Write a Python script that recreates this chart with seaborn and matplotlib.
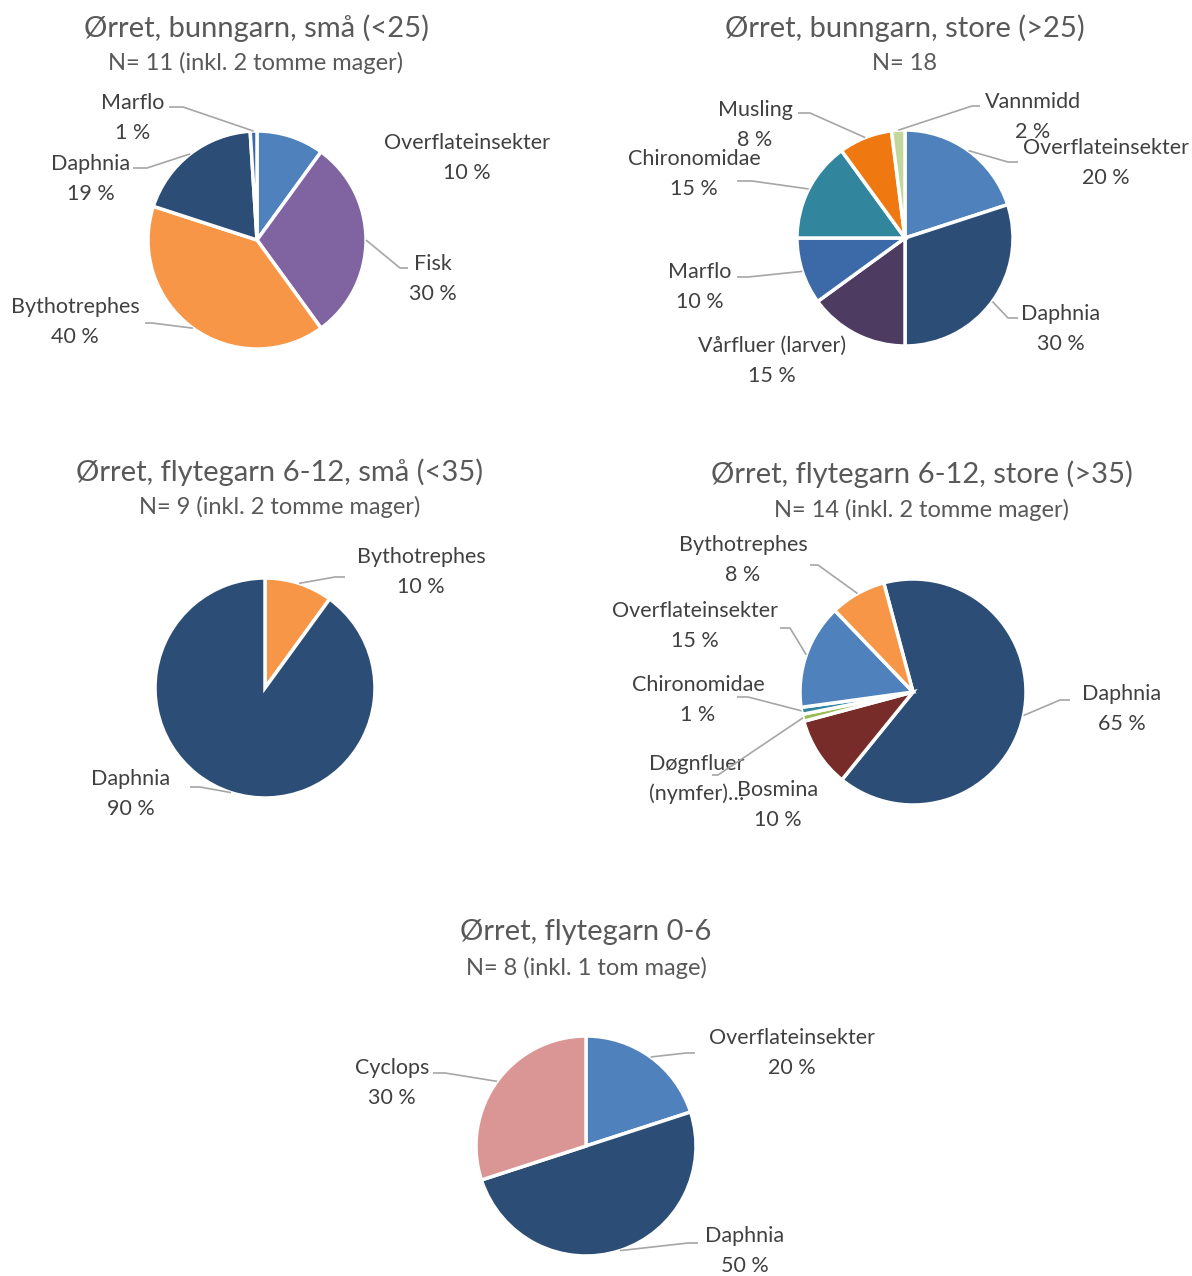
import numpy as np
import matplotlib
matplotlib.use("Agg")
import matplotlib.pyplot as plt
import seaborn as sns

# ── data ──────────────────────────────────────────────────────────────
small_bunn_cats = ["Overflateinsekter", "Fisk", "Bythotrephes", "Daphnia", "Marflo"]
small_bunn_vals = [10, 30, 40, 19, 1]

large_bunn_cats = ["Overflateinsekter", "Daphnia", "Vårfluer (larver)", "Marflo",
                   "Chironomidae", "Musling", "Vannmidd"]
large_bunn_vals = [20, 30, 15, 10, 15, 8, 2]

small_flyt_cats = ["Bythotrephes", "Daphnia"]
small_flyt_vals = [10, 90]

large_flyt_cats = ["Daphnia", "Bosmina", "Døgnfluer (nymfer)", "Chironomidae",
                   "Overflateinsekter", "Bythotrephes"]
large_flyt_vals = [65, 10, 1, 1, 15, 8]

shallow_cats = ["Overflateinsekter", "Daphnia", "Cyclops"]
shallow_vals = [20, 50, 30]

titles = ["Ørret, bunngarn, små (<25)", "Ørret, bunngarn, store (>25)",
          "Ørret, flytegarn 6-12, små (<35)", "Ørret, flytegarn 6-12, store (>35)",
          "Ørret, flytegarn 0-6"]
subtitles = ["N= 11 (inkl. 2 tomme mager)", "N= 18",
             "N= 9 (inkl. 2 tomme mager)", "N= 14 (inkl. 2 tomme mager)",
             "N= 8 (inkl. 1 tom mage)"]

# ── style ─────────────────────────────────────────────────────────────
sns.set_theme(style="white")
plt.rcParams["font.family"] = ["Lato", "DejaVu Sans"]

W, H = 1192, 1276
TXT = "#404040"
TTL = "#595959"
LINE = "#a6a6a6"
DY = 2  # small downward nudge for text

colors = {
    "Overflateinsekter": "#4f81bd", "Fisk": "#8064a2", "Bythotrephes": "#f79646",
    "Daphnia": "#2c4d75", "Marflo": "#3c6aa8", "Vårfluer (larver)": "#4d3b62",
    "Chironomidae": "#31859c", "Musling": "#f07810", "Vannmidd": "#c3d69b",
    "Bosmina": "#772c2a", "Døgnfluer (nymfer)": "#9bbb59", "Cyclops": "#d99694",
}
short_name = {"Døgnfluer (nymfer)": "Døgnfluer\n(nymfer)…"}

# layout per chart: centre, radius, rotation, title y, label centres, leader starts
charts = [
    dict(cats=small_bunn_cats, vals=small_bunn_vals, c=(257, 240), r=109, rot=0,
         tx=256, ty=26, sy=61,
         labels=[(467, 156), (433, 277), (75, 320), (91, 177), (133, 116)],
         leaders=[None, (408, 268, 400), (145, 323, 152), (133, 168, 147), (169, 107, 183)]),
    dict(cats=large_bunn_cats, vals=large_bunn_vals, c=(905, 238), r=108, rot=0,
         tx=905, ty=26, sy=61,
         labels=[(1106, 161), (1061, 327), (772, 359), (700, 285), (694, 172),
                 (755, 123), (1033, 115)],
         leaders=[(1018, 162, 1008), (1018, 318, 1008), None, (737, 277, 748),
                  (737, 181, 752), (798, 113, 810), (980, 106, 972)]),
    dict(cats=small_flyt_cats, vals=small_flyt_vals, c=(265, 688), r=110, rot=0,
         tx=280, ty=470, sy=505,
         labels=[(421, 570), (131, 792)],
         leaders=[(345, 577, 335), (190, 787, 200)]),
    dict(cats=large_flyt_cats, vals=large_flyt_vals, c=(913, 692), r=113, rot=-15,
         tx=922, ty=472, sy=508,
         labels=[(1122, 707), (778, 803), (697, 777), (698, 698), (695, 624), (743, 558)],
         leaders=[(1070, 700, 1060), None, (712, 775, 718), (737, 697, 748),
                  (780, 628, 790), (810, 565, 818)]),
    dict(cats=shallow_cats, vals=shallow_vals, c=(586, 1146), r=110, rot=0,
         tx=586, ty=930, sy=966,
         labels=[(792, 1051), (745, 1249), (392, 1081)],
         leaders=[(695, 1053, 686), (698, 1243, 688), (433, 1073, 445)]),
]

fig = plt.figure(figsize=(W / 100, H / 100), dpi=100)
ax = fig.add_axes([0, 0, 1, 1])

for i, ch in enumerate(charts):
    cx, cy = ch["c"]
    wedges, _ = ax.pie(ch["vals"], colors=[colors[k] for k in ch["cats"]],
                       center=(cx, H - cy), radius=ch["r"],
                       startangle=90 - ch["rot"], counterclock=False,
                       wedgeprops=dict(edgecolor="white", linewidth=2.5))
    total = sum(ch["vals"])
    for w, cat, v, (lx, ly), ld in zip(wedges, ch["cats"], ch["vals"],
                                         ch["labels"], ch["leaders"]):
        txt = short_name.get(cat, f"{cat}\n{round(100 * v / total)} %")
        ax.text(lx, H - ly - DY, txt, ha="center", va="center", fontsize=15.5,
                color=TXT, linespacing=1.6)
        if ld is not None:
            mid = np.deg2rad((w.theta1 + w.theta2) / 2)
            ex = w.center[0] + w.r * np.cos(mid)
            ey = w.center[1] + w.r * np.sin(mid)
            x0, y0, xe = ld
            ax.plot([x0, xe, ex], [H - y0, H - y0, ey], color=LINE, lw=1.2,
                    solid_capstyle="butt", zorder=3)
    ax.text(ch["tx"], H - ch["ty"] - DY, titles[i], ha="center", va="center",
            fontsize=21, color=TTL)
    ax.text(ch["tx"], H - ch["sy"] - DY, subtitles[i], ha="center", va="center",
            fontsize=17, color=TTL)

ax.set_xlim(0, W)
ax.set_ylim(0, H)
ax.axis("off")
fig.savefig("out.png", dpi=100, facecolor="white")
